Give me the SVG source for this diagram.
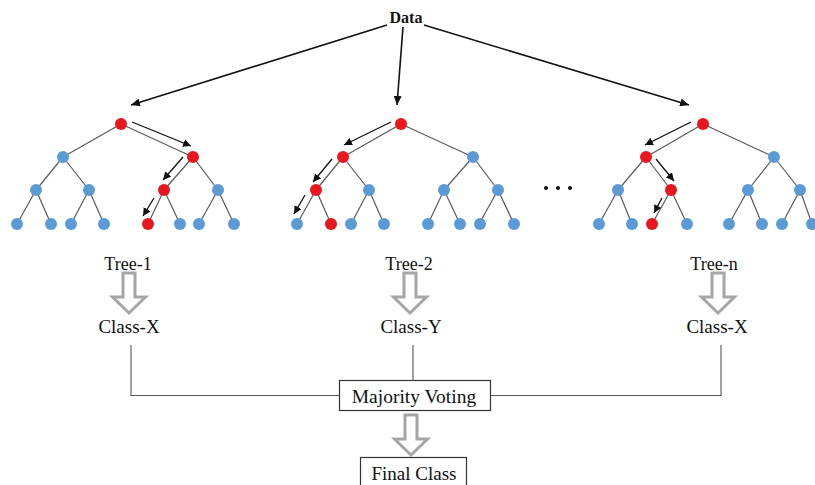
<svg xmlns="http://www.w3.org/2000/svg" xmlns:xlink="http://www.w3.org/1999/xlink" width="815" height="485" viewBox="0 0 815 485">
<style>
  text { font-family: "Liberation Serif", "Times New Roman", serif; fill: #111; }
  .lbl { font-size: 18px; text-anchor: middle; }
  .lbl2 { font-size: 19px; text-anchor: middle; }
  .edge { stroke: #5a5a5a; stroke-width: 1.2; fill: none; }
  .b { fill: #5b9bd5; }
  .r { fill: #e8161e; }
  .arr { stroke: #111; stroke-width: 1.3; fill: none; marker-end: url(#ah); }
  .darr { stroke: #111; stroke-width: 1.6; fill: none; marker-end: url(#ahBig); }
  .conn { stroke: #555; stroke-width: 1.1; fill: none; }
  .hollow { fill: #fff; stroke: #a6a6a6; stroke-width: 3; stroke-linejoin: miter; }
  .box { fill: #fff; stroke: #333; stroke-width: 1.2; }
</style>
<defs>
  <marker id="ah" markerUnits="userSpaceOnUse" markerWidth="9" markerHeight="8" refX="8" refY="4" orient="auto">
    <path d="M0,0 L8,4 L0,8 Z" fill="#111"/>
  </marker>
  <marker id="ahBig" markerUnits="userSpaceOnUse" markerWidth="10" markerHeight="8" refX="9" refY="4" orient="auto">
    <path d="M0,0 L9,4 L0,8 Z" fill="#111"/>
  </marker>
  <path id="hollowArrow" class="hollow" d="M-6,0 L6,0 L6,24 L16.5,24 L0,40 L-16.5,24 L-6,24 Z"/>
  <g id="treeEdges">
    <path class="edge" d="M121,124 L63,157 M121,124 L193,157 M63,157 L36,190 M63,157 L89,190 M193,157 L164,190 M193,157 L218,190 M36,190 L17,224 M36,190 L51,224 M89,190 L71,224 M89,190 L104,224 M164,190 L148,224 M164,190 L180,224 M218,190 L199,224 M218,190 L234,224"/>
  </g>
</defs>

<g id="data">
  <text x="406" y="23" style="font-size:16px;font-weight:bold;text-anchor:middle">Data</text>
</g>

<g id="tree-1">
  <use xlink:href="#treeEdges"/>
  <circle class="r" cx="121" cy="124" r="6"/>
  <circle class="b" cx="63" cy="157" r="6"/>
  <circle class="r" cx="193" cy="157" r="6"/>
  <circle class="b" cx="36" cy="190" r="6"/>
  <circle class="b" cx="89" cy="190" r="6"/>
  <circle class="r" cx="164" cy="190" r="6"/>
  <circle class="b" cx="218" cy="190" r="6"/>
  <circle class="b" cx="17" cy="224" r="6"/>
  <circle class="b" cx="51" cy="224" r="6"/>
  <circle class="b" cx="71" cy="224" r="6"/>
  <circle class="b" cx="104" cy="224" r="6"/>
  <circle class="r" cx="148" cy="224" r="6"/>
  <circle class="b" cx="180" cy="224" r="6"/>
  <circle class="b" cx="199" cy="224" r="6"/>
  <circle class="b" cx="234" cy="224" r="6"/>
  <path class="arr" d="M132,122 L191,146"/>
  <path class="arr" d="M183,157 L163,180"/>
  <path class="arr" d="M154,198 L143,216"/>
  <text class="lbl" x="128" y="270">Tree-1</text>
</g>

<g id="tree-2">
  <use xlink:href="#treeEdges" transform="translate(280,0)"/>
  <circle class="r" cx="401" cy="124" r="6"/>
  <circle class="r" cx="343" cy="157" r="6"/>
  <circle class="b" cx="473" cy="157" r="6"/>
  <circle class="r" cx="316" cy="190" r="6"/>
  <circle class="b" cx="369" cy="190" r="6"/>
  <circle class="b" cx="444" cy="190" r="6"/>
  <circle class="b" cx="498" cy="190" r="6"/>
  <circle class="b" cx="297" cy="224" r="6"/>
  <circle class="r" cx="331" cy="224" r="6"/>
  <circle class="b" cx="351" cy="224" r="6"/>
  <circle class="b" cx="384" cy="224" r="6"/>
  <circle class="b" cx="428" cy="224" r="6"/>
  <circle class="b" cx="460" cy="224" r="6"/>
  <circle class="b" cx="480" cy="224" r="6"/>
  <circle class="b" cx="514" cy="224" r="6"/>
  <path class="arr" d="M391,122 L344,145"/>
  <path class="arr" d="M332,159 L313,182"/>
  <path class="arr" d="M305,195 L294,214"/>
  <text class="lbl" x="409" y="270">Tree-2</text>
</g>

<g id="ellipsis">
  <circle cx="546" cy="188" r="2" fill="#111"/>
  <circle cx="558" cy="188" r="2" fill="#111"/>
  <circle cx="570" cy="188" r="2" fill="#111"/>
</g>

<g id="tree-n">
  <path class="edge" d="M703,124 L646,157 M703,124 L774,157 M646,157 L618,190 M646,157 L671,190 M774,157 L748,190 M774,157 L800,190 M618,190 L599,224 M618,190 L632,224 M671,190 L652,224 M671,190 L687,224 M748,190 L729,224 M748,190 L762,224 M800,190 L782,224 M800,190 L812,224"/>
  <circle class="r" cx="703" cy="124" r="6"/>
  <circle class="r" cx="646" cy="157" r="6"/>
  <circle class="b" cx="774" cy="157" r="6"/>
  <circle class="b" cx="618" cy="190" r="6"/>
  <circle class="r" cx="671" cy="190" r="6"/>
  <circle class="b" cx="748" cy="190" r="6"/>
  <circle class="b" cx="800" cy="190" r="6"/>
  <circle class="b" cx="599" cy="224" r="6"/>
  <circle class="b" cx="632" cy="224" r="6"/>
  <circle class="r" cx="652" cy="224" r="6"/>
  <circle class="b" cx="687" cy="224" r="6"/>
  <circle class="b" cx="729" cy="224" r="6"/>
  <circle class="b" cx="762" cy="224" r="6"/>
  <circle class="b" cx="782" cy="224" r="6"/>
  <circle class="b" cx="812" cy="224" r="6"/>
  <path class="arr" d="M691,122 L645,145"/>
  <path class="arr" d="M656,159 L674,181"/>
  <path class="arr" d="M662,198 L654,213"/>
  <text class="lbl" x="714" y="270">Tree-n</text>
</g>

<g id="class-1">
  <use xlink:href="#hollowArrow" transform="translate(129,273)"/>
  <text class="lbl2" x="129" y="333">Class-X</text>
</g>
<g id="class-2">
  <use xlink:href="#hollowArrow" transform="translate(410,273)"/>
  <text class="lbl2" x="411" y="333">Class-Y</text>
</g>
<g id="class-n">
  <use xlink:href="#hollowArrow" transform="translate(718,273)"/>
  <text class="lbl2" x="717" y="333">Class-X</text>
</g>

<g id="majority-voting">
  <rect class="box" x="339.5" y="380.5" width="151" height="30"/>
  <text class="lbl2" x="414" y="403" style="font-size:19.5px">Majority Voting</text>
</g>

<g id="final-class">
  <use xlink:href="#hollowArrow" transform="translate(411,415)"/>
  <rect class="box" x="360.5" y="457.5" width="106" height="32"/>
  <text class="lbl2" x="414" y="480">Final Class</text>
</g>

<g id="connectors">
  <path class="darr" d="M387,25 L131,105"/>
  <path class="darr" d="M403,27 L397,105"/>
  <path class="darr" d="M424,25 L689,105"/>
  <path class="conn" d="M131,345 L131,395.5 L339.5,395.5"/>
  <path class="conn" d="M413,345 L413,380.5"/>
  <path class="conn" d="M721,345 L721,395.5 L490.5,395.5"/>
</g>
</svg>
